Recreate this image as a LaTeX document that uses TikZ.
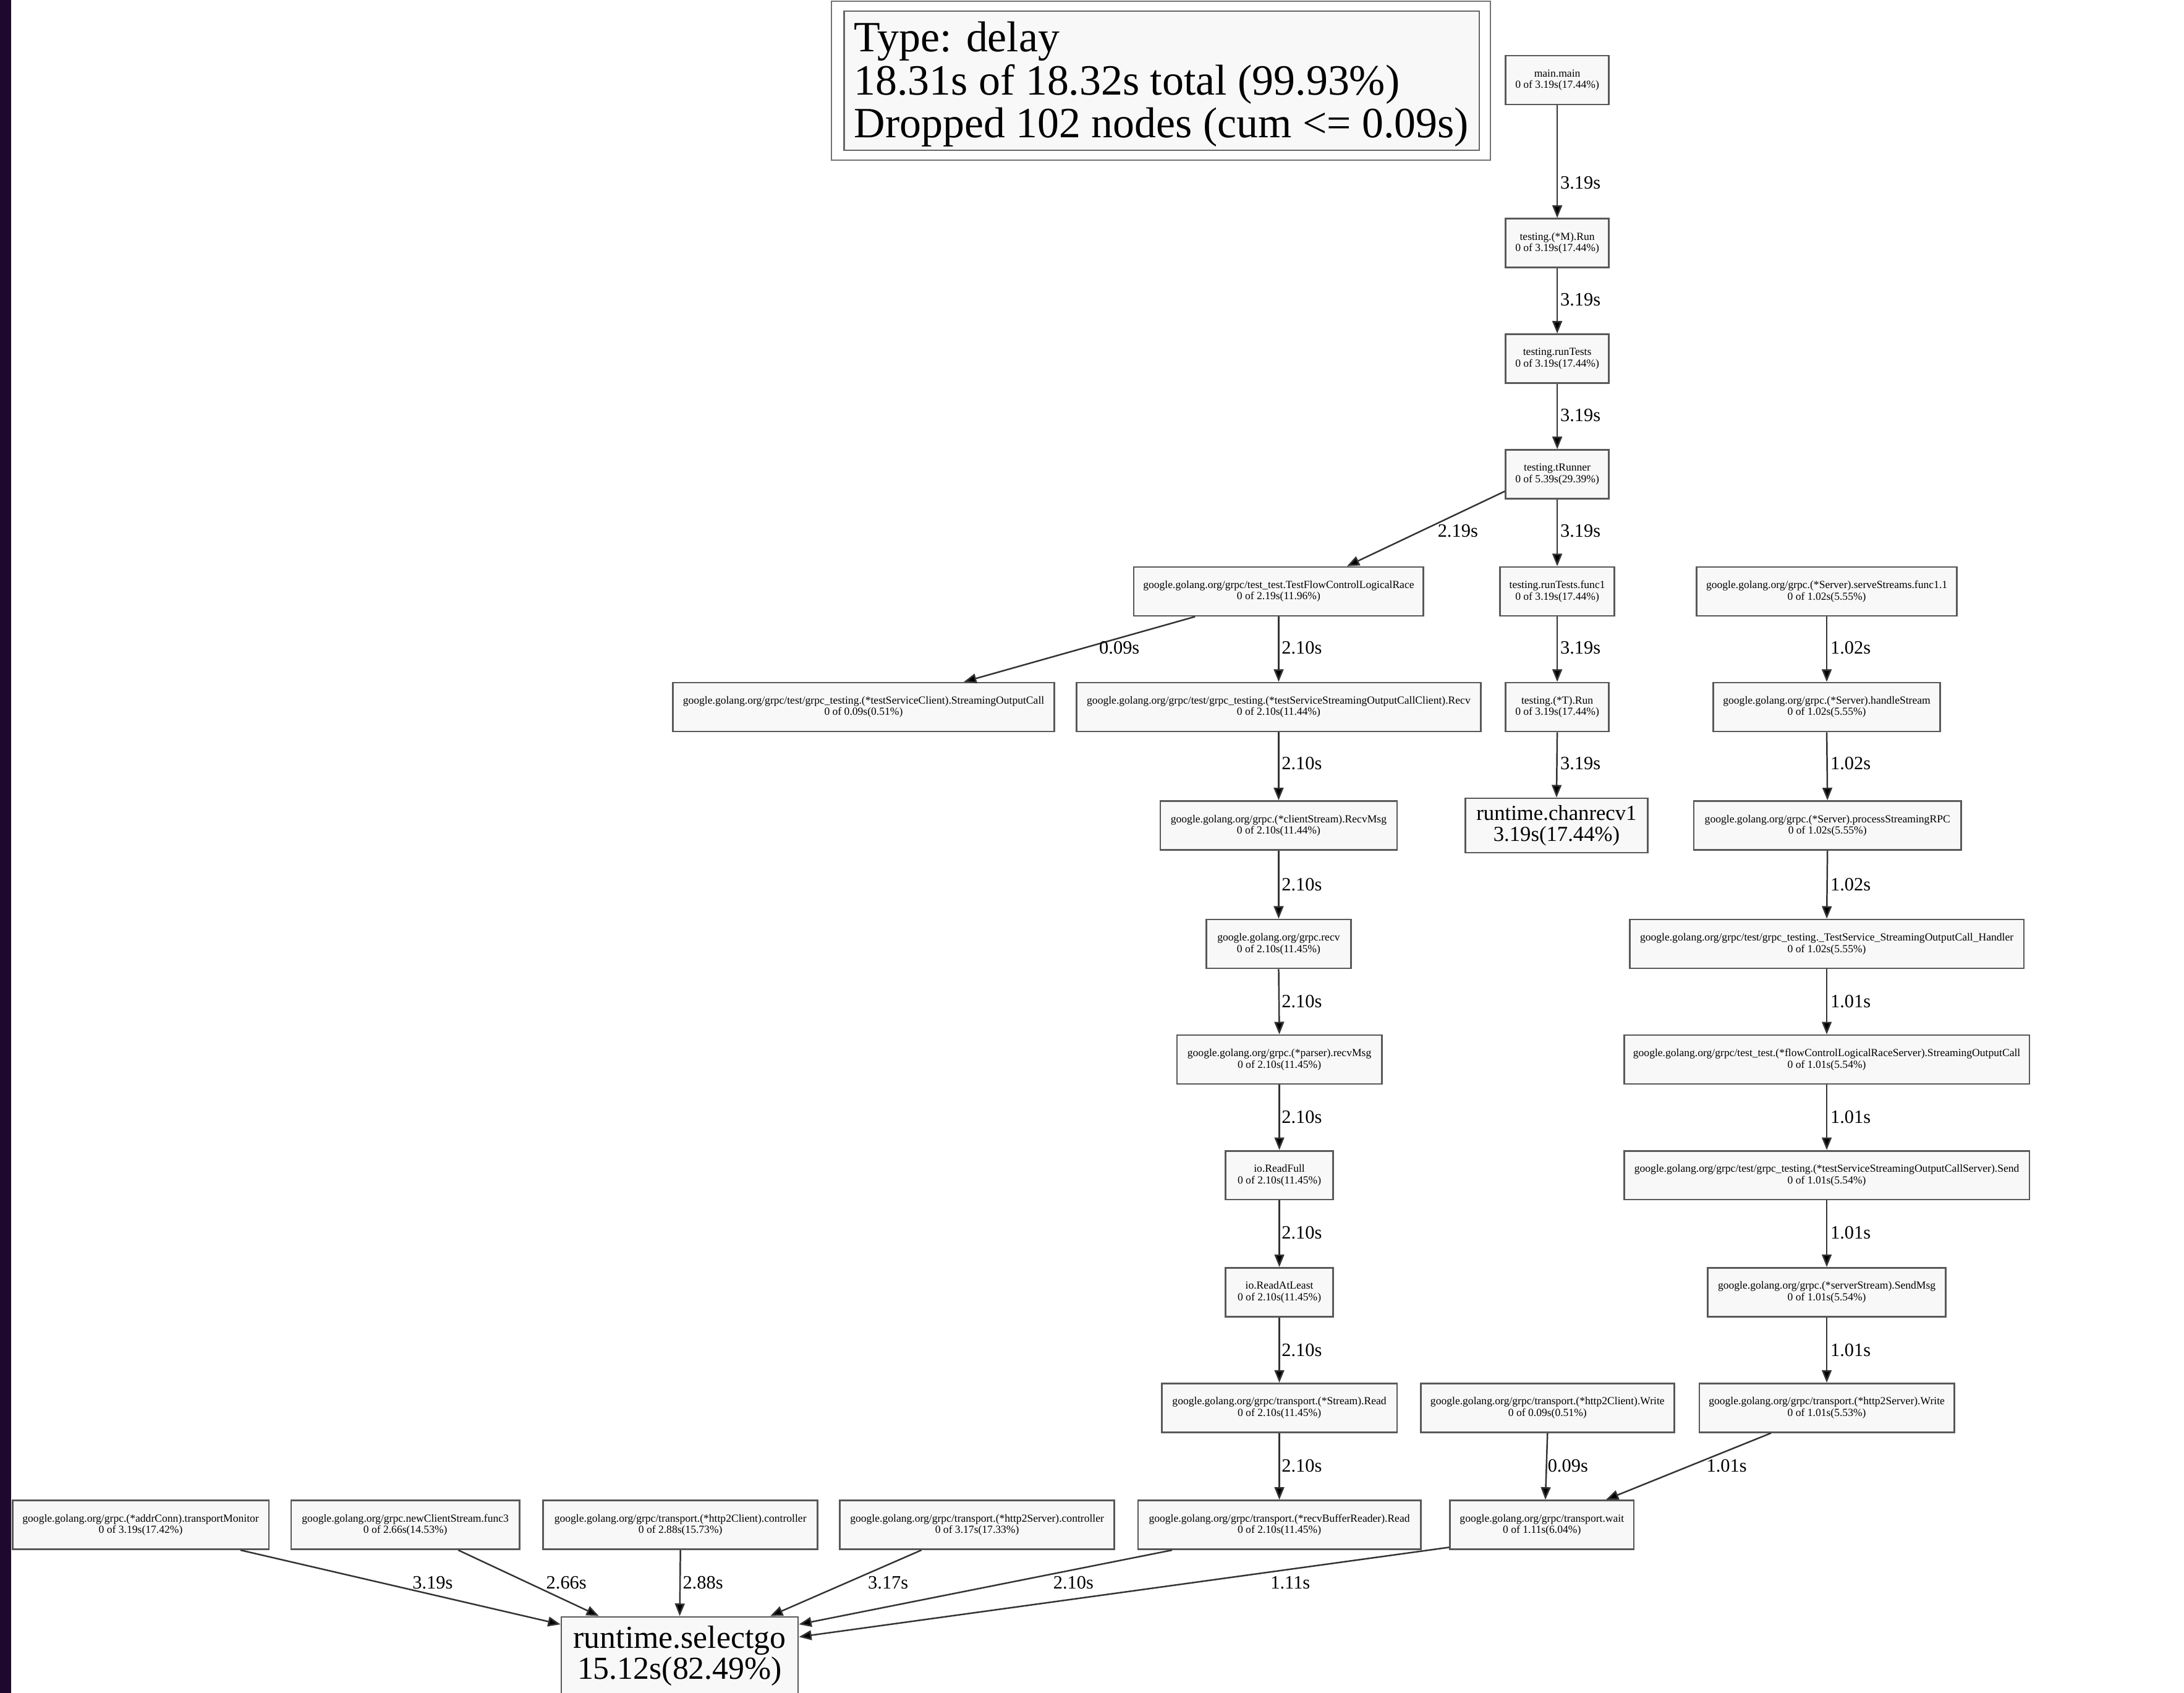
\documentclass[tikz,border=0pt]{standalone}
\usepackage{fontspec}
\setmainfont{Liberation Serif}
\usetikzlibrary{arrows.meta}
\definecolor{nodefill}{HTML}{F8F8F8}
\definecolor{stripcol}{RGB}{30,8,45}
\begin{document}
\begin{tikzpicture}[x=1pt,y=-1pt,
  fn/.style={draw=black!65, line width=1.2pt, fill=nodefill, rectangle, inner sep=0pt,
    align=center, minimum height=35pt, font=\fontsize{7.8}{8.2}\selectfont},
  bigfn/.style={fn, font=\fontsize{15.4}{15}\selectfont, minimum height=39pt},
  hugefn/.style={fn, font=\fontsize{23}{22}\selectfont, minimum height=56pt},
  lbl/.style={anchor=west, inner sep=0pt, font=\fontsize{13.5}{14}\selectfont},
  conn/.style={draw=black!80, line width=1.1pt, -{Triangle[length=9pt,width=7pt,fill=black]}},
]
\useasboundingbox (0,0) rectangle (1568,1215);
\fill[white] (0,0) rectangle (1568,1215);
\fill[stripcol] (0,0) rectangle (8,1215);

% legend
\node[draw=black!55, line width=0.8pt, fill=white, minimum width=473pt, minimum height=114pt, inner sep=0pt] (legout) at (833.5,58) {};
\node[draw=black!60, line width=1pt, fill=nodefill, minimum width=456pt, minimum height=100pt, inner sep=0pt] (legbox) at (834,58) {};
\node[anchor=west, inner sep=0pt, align=left, font=\fontsize{31}{31}\selectfont] (legend) at (613,60.5)
  {Type: delay\\18.31s of 18.32s total (99.93\%)\\Dropped 102 nodes (cum <= 0.09s)};

% nodes
\node[fn, minimum width=74pt] (mainmain) at (1118,57.5) {main.main\\0 of 3.19s(17.44\%)};
\node[fn, minimum width=74pt] (mrun) at (1118,174.5) {testing.(*M).Run\\0 of 3.19s(17.44\%)};
\node[fn, minimum width=74pt] (runtests) at (1118,257.5) {testing.runTests\\0 of 3.19s(17.44\%)};
\node[fn, minimum width=74pt] (trunner) at (1118,340.5) {testing.tRunner\\0 of 5.39s(29.39\%)};
\node[fn, minimum width=208pt] (testflow) at (918,424.5) {google.golang.org/grpc/test\_test.TestFlowControlLogicalRace\\0 of 2.19s(11.96\%)};
\node[fn, minimum width=82pt] (func1) at (1118,424.5) {testing.runTests.func1\\0 of 3.19s(17.44\%)};
\node[fn, minimum width=187pt] (serve) at (1311.5,424.5) {google.golang.org/grpc.(*Server).serveStreams.func1.1\\0 of 1.02s(5.55\%)};
\node[fn, minimum width=274pt] (soccl) at (620,507.5) {google.golang.org/grpc/test/grpc\_testing.(*testServiceClient).StreamingOutputCall\\0 of 0.09s(0.51\%)};
\node[fn, minimum width=290pt] (recvcl) at (918,507.5) {google.golang.org/grpc/test/grpc\_testing.(*testServiceStreamingOutputCallClient).Recv\\0 of 2.10s(11.44\%)};
\node[fn, minimum width=74pt] (trun) at (1118,507.5) {testing.(*T).Run\\0 of 3.19s(17.44\%)};
\node[fn, minimum width=163pt] (handle) at (1311.5,507.5) {google.golang.org/grpc.(*Server).handleStream\\0 of 1.02s(5.55\%)};
\node[fn, minimum width=170pt] (recvmsg) at (918,592.5) {google.golang.org/grpc.(*clientStream).RecvMsg\\0 of 2.10s(11.44\%)};
\node[bigfn, minimum width=131pt] (chanrecv) at (1117.5,592.5) {runtime.chanrecv1\\3.19s(17.44\%)};
\node[fn, minimum width=192pt] (process) at (1312,592.5) {google.golang.org/grpc.(*Server).processStreamingRPC\\0 of 1.02s(5.55\%)};
\node[fn, minimum width=104pt] (grecv) at (918,677.5) {google.golang.org/grpc.recv\\0 of 2.10s(11.45\%)};
\node[fn, minimum width=283pt] (handler) at (1311.5,677.5) {google.golang.org/grpc/test/grpc\_testing.\_TestService\_StreamingOutputCall\_Handler\\0 of 1.02s(5.55\%)};
\node[fn, minimum width=147pt] (parser) at (918.5,760.5) {google.golang.org/grpc.(*parser).recvMsg\\0 of 2.10s(11.45\%)};
\node[fn, minimum width=291pt] (flowsrv) at (1311.5,760.5) {google.golang.org/grpc/test\_test.(*flowControlLogicalRaceServer).StreamingOutputCall\\0 of 1.01s(5.54\%)};
\node[fn, minimum width=77pt] (readfull) at (918.5,843.5) {io.ReadFull\\0 of 2.10s(11.45\%)};
\node[fn, minimum width=291pt] (send) at (1311.5,843.5) {google.golang.org/grpc/test/grpc\_testing.(*testServiceStreamingOutputCallServer).Send\\0 of 1.01s(5.54\%)};
\node[fn, minimum width=77pt] (readatleast) at (918.5,927.5) {io.ReadAtLeast\\0 of 2.10s(11.45\%)};
\node[fn, minimum width=171pt] (sendmsg) at (1311.5,927.5) {google.golang.org/grpc.(*serverStream).SendMsg\\0 of 1.01s(5.54\%)};
\node[fn, minimum width=169pt] (streamread) at (918.5,1010.5) {google.golang.org/grpc/transport.(*Stream).Read\\0 of 2.10s(11.45\%)};
\node[fn, minimum width=182pt] (h2cw) at (1111,1010.5) {google.golang.org/grpc/transport.(*http2Client).Write\\0 of 0.09s(0.51\%)};
\node[fn, minimum width=183pt] (h2sw) at (1311.5,1010.5) {google.golang.org/grpc/transport.(*http2Server).Write\\0 of 1.01s(5.53\%)};
\node[fn, minimum width=184pt] (addr) at (101,1094.5) {google.golang.org/grpc.(*addrConn).transportMonitor\\0 of 3.19s(17.42\%)};
\node[fn, minimum width=164pt] (ncs) at (291,1094.5) {google.golang.org/grpc.newClientStream.func3\\0 of 2.66s(14.53\%)};
\node[fn, minimum width=197pt] (h2cc) at (488.5,1094.5) {google.golang.org/grpc/transport.(*http2Client).controller\\0 of 2.88s(15.73\%)};
\node[fn, minimum width=197pt] (h2sc) at (701.5,1094.5) {google.golang.org/grpc/transport.(*http2Server).controller\\0 of 3.17s(17.33\%)};
\node[fn, minimum width=203pt] (rbr) at (918.5,1094.5) {google.golang.org/grpc/transport.(*recvBufferReader).Read\\0 of 2.10s(11.45\%)};
\node[fn, minimum width=132pt] (wait) at (1107,1094.5) {google.golang.org/grpc/transport.wait\\0 of 1.11s(6.04\%)};
\node[hugefn, minimum width=170pt] (sel) at (488,1188.5) {runtime.selectgo\\15.12s(82.49\%)};

% connectors
\draw[conn] (mainmain.south) -- (mrun.north);
\draw[conn] (mrun.south) -- (runtests.north);
\draw[conn] (runtests.south) -- (trunner.north);
\draw[conn] (trunner.south) -- (func1.north);
\draw[conn] ([yshift=6pt]trunner.south west) -- ([xshift=49pt]testflow.north);
\draw[conn] (testflow.south) -- (recvcl.north);
\draw[conn] ([xshift=-60pt]testflow.south) -- ([xshift=72pt]soccl.north);
\draw[conn] (func1.south) -- (trun.north);
\draw[conn] (trun.south) -- (chanrecv.north);
\draw[conn] (serve.south) -- (handle.north);
\draw[conn] (handle.south) -- (process.north);
\draw[conn] (process.south) -- (handler.north);
\draw[conn] (handler.south) -- (flowsrv.north);
\draw[conn] (flowsrv.south) -- (send.north);
\draw[conn] (send.south) -- (sendmsg.north);
\draw[conn] (sendmsg.south) -- (h2sw.north);
\draw[conn] (recvcl.south) -- (recvmsg.north);
\draw[conn] (recvmsg.south) -- (grecv.north);
\draw[conn] (grecv.south) -- (parser.north);
\draw[conn] (parser.south) -- (readfull.north);
\draw[conn] (readfull.south) -- (readatleast.north);
\draw[conn] (readatleast.south) -- (streamread.north);
\draw[conn] (streamread.south) -- (rbr.north);
\draw[conn] (h2cw.south) -- ([xshift=2.5pt]wait.north);
\draw[conn] ([xshift=-40pt]h2sw.south) -- ([xshift=46pt]wait.north);
\draw[conn] ([xshift=-21pt]addr.south east) -- ([yshift=-6pt]sel.north west);
\draw[conn] ([xshift=38pt]ncs.south) -- ([xshift=-58pt]sel.north);
\draw[conn] (h2cc.south) -- (sel.north);
\draw[conn] ([xshift=-40pt]h2sc.south) -- ([xshift=65pt]sel.north);
\draw[conn] ([xshift=-77pt]rbr.south) -- ([yshift=-6pt]sel.north east);
\draw[conn] ([yshift=2pt]wait.south west) -- ([yshift=-15pt]sel.north east);

% connector labels
\node[lbl] (l1) at (1120,131) {3.19s};
\node[lbl] (l2) at (1120,215) {3.19s};
\node[lbl] (l3) at (1120,298) {3.19s};
\node[lbl] (l4) at (1120,381) {3.19s};
\node[lbl] (l5) at (1032,381) {2.19s};
\node[lbl] (l6) at (920,465) {2.10s};
\node[lbl] (l7) at (789,465) {0.09s};
\node[lbl] (l8) at (1120,465) {3.19s};
\node[lbl] (l9) at (1314,465) {1.02s};
\node[lbl] (l10) at (920,548) {2.10s};
\node[lbl] (l11) at (1120,548) {3.19s};
\node[lbl] (l12) at (1314,548) {1.02s};
\node[lbl] (l13) at (920,635) {2.10s};
\node[lbl] (l14) at (1314,635) {1.02s};
\node[lbl] (l15) at (920,719) {2.10s};
\node[lbl] (l16) at (1314,719) {1.01s};
\node[lbl] (l17) at (920,802) {2.10s};
\node[lbl] (l18) at (1314,802) {1.01s};
\node[lbl] (l19) at (920,885) {2.10s};
\node[lbl] (l20) at (1314,885) {1.01s};
\node[lbl] (l21) at (920,969) {2.10s};
\node[lbl] (l22) at (1314,969) {1.01s};
\node[lbl] (l23) at (920,1052) {2.10s};
\node[lbl] (l24) at (1111,1052) {0.09s};
\node[lbl] (l25) at (1225,1052) {1.01s};
\node[lbl] (l26) at (296,1136) {3.19s};
\node[lbl] (l27) at (392,1136) {2.66s};
\node[lbl] (l28) at (490,1136) {2.88s};
\node[lbl] (l29) at (623,1136) {3.17s};
\node[lbl] (l30) at (756,1136) {2.10s};
\node[lbl] (l31) at (912,1136) {1.11s};
\end{tikzpicture}
\end{document}
